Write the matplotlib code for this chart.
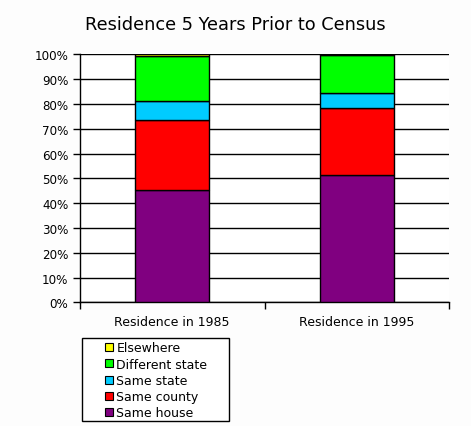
import numpy as np
from matplotlib import pyplot as plt
from matplotlib.patches import Patch, Rectangle
from matplotlib.ticker import MultipleLocator, PercentFormatter

# Datos (porcentajes)
categorias = ['Residence in 1985', 'Residence in 1995']
series = ['Same house', 'Same county', 'Same state', 'Different state', 'Elsewhere']
misma_casa = [45.2, 51.3]
mismo_condado = [28.3, 26.9]
mismo_estado = [7.5, 6.1]
otro_estado = [18.4, 15.5]
otro_lugar = [0.6, 0.2]
colores = ['#800080', '#FF0000', '#00CCFF', '#00FF00', '#FFFF00']

plt.rcParams['font.family'] = ['DejaVu Sans']

W, H = 471, 427
fig = plt.figure(figsize=(W / 100, H / 100), dpi=100, facecolor='#FDFDFD')
ax = fig.add_axes([80 / W, 1 - 303.3 / H, 369 / W, 248 / H])
ax.set_facecolor('white')

x = np.arange(len(categorias))
base = np.zeros(len(categorias))
for valores, color in zip([misma_casa, mismo_condado, mismo_estado, otro_estado, otro_lugar], colores):
    ax.bar(x, valores, width=0.4, bottom=base, color=color, edgecolor='black',
           linewidth=1, zorder=3)
    base += np.array(valores)

ax.set_xlim(-0.5, 1.5)
ax.set_ylim(0, 100)
ax.yaxis.set_major_locator(MultipleLocator(10))
ax.yaxis.set_major_formatter(PercentFormatter(decimals=0))
ax.grid(axis='y', color='black', linewidth=1, zorder=0)

ax.set_xticks([-0.5, 0.5, 1.5])
ax.set_xticklabels([])
ax.set_xticks(x, minor=True)
ax.set_xticklabels(categorias, minor=True)
ax.tick_params(axis='x', which='minor', length=0, pad=9, labelsize=9)
ax.tick_params(axis='both', which='major', length=5, width=1, color='black')
ax.tick_params(axis='y', which='major', labelsize=8.6)

for lado in ['top', 'right']:
    ax.spines[lado].set_visible(False)
for lado in ['left', 'bottom']:
    ax.spines[lado].set_linewidth(1)

fig.text(235 / W, 1 - 25 / H, 'Residence 5 Years Prior to Census',
         ha='center', va='center', fontsize=12.8)

# Marco de la leyenda (mas ancho que el contenido, como en el original)
fig.add_artist(Rectangle((82 / W, 1 - 422 / H), 147 / W, 83 / H,
                         transform=fig.transFigure, facecolor='white',
                         edgecolor='black', linewidth=1))

# Leyenda con el orden invertido
manejadores = [Patch(facecolor=c, edgecolor='black', linewidth=0.8) for c in colores]
ley = fig.legend(manejadores[::-1], series[::-1], loc='upper left',
                 bbox_to_anchor=(105 / W, 1 - 342.5 / H), fontsize=9,
                 frameon=False, handlelength=0.6, handleheight=0.6,
                 handletextpad=0.3, labelspacing=0.26, borderpad=0,
                 borderaxespad=0)

fig.savefig('out.png', dpi=100, facecolor=fig.get_facecolor())
